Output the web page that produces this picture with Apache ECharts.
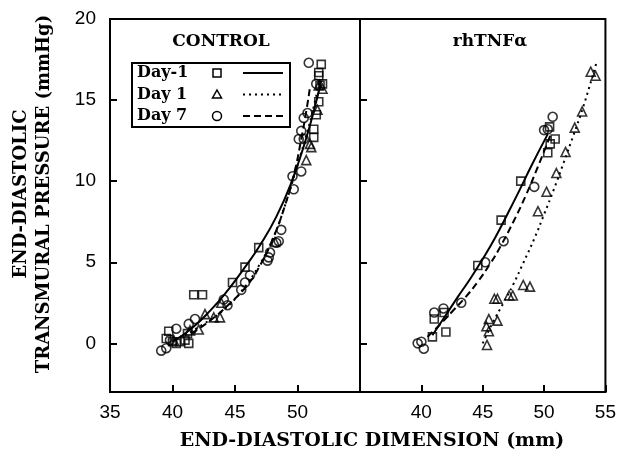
<!DOCTYPE html>
<html>
<head>
<meta charset="utf-8">
<script src="https://cdn.jsdelivr.net/npm/echarts@6/dist/echarts.min.js"></script>
<style>
html,body{margin:0;padding:0;background:#fff;}
#chart{width:619px;height:456px;}
</style>
</head>
<body>
<div id="chart"></div>
<script>
// ---- data ----
const xTicksLeft = [35, 40, 45, 50];
const xTicksRight = [40, 45, 50, 55];
const yTicks = [0, 5, 10, 15, 20];
const panelTitles = ['CONTROL', 'rhTNF\u03b1'];
const legendNames = ['Day-1', 'Day 1', 'Day 7'];

// CONTROL panel points [dimension, pressure]
const ctrlDayM1Pts = [[39.5,0.3],[39.7,0.75],[40.0,0.1],[40.3,0.0],[40.6,0.1],[41.0,0.2],[41.3,0.0],[41.2,0.6],[41.7,3.0],[42.4,3.0],[44.8,3.75],[45.8,4.7],[46.9,5.9],[51.3,12.7],[51.3,13.2],[51.5,14.1],[51.7,14.9],[51.7,16.5],[51.7,16.7],[51.9,17.2],[51.8,15.9],[52.0,16.0]];
const ctrlDay1Pts = [[40.1,0.2],[41.4,0.8],[42.1,0.85],[42.6,1.8],[43.3,1.6],[43.8,1.6],[43.9,2.5],[48.2,6.25],[50.7,11.3],[51.0,12.3],[51.1,12.1],[51.6,14.4],[52.0,15.7],[51.7,15.9]];
const ctrlDay7Pts = [[39.1,-0.45],[39.5,-0.3],[39.8,0.2],[40.3,0.9],[41.3,1.2],[41.8,1.5],[44.1,2.7],[44.4,2.35],[45.5,3.3],[45.8,3.75],[46.2,4.2],[47.6,5.1],[47.7,5.3],[47.8,5.6],[48.3,6.2],[48.5,6.3],[48.7,7.0],[49.6,10.3],[49.7,9.5],[50.1,12.6],[50.3,10.6],[50.3,13.1],[50.5,12.6],[50.5,13.9],[50.8,14.2],[50.9,17.3],[51.5,16.0]];
// CONTROL fitted curves
const ctrlDayM1Fit = [[40.0,0.1],[41.5,0.9],[43.0,2.0],[44.5,3.35],[45.8,4.7],[47.0,6.05],[48.3,7.8],[49.5,9.9],[50.6,12.4],[51.4,14.6],[51.9,16.2]];
const ctrlDay1Fit = [[41.0,0.5],[42.5,1.2],[44.0,2.0],[45.5,3.2],[47.0,4.9],[48.0,6.4],[49.0,8.5],[50.0,11.0],[50.8,13.1],[51.3,14.6],[51.8,16.3]];
const ctrlDay7Fit = [[41.5,0.6],[43.0,1.4],[44.5,2.4],[46.0,3.6],[47.0,4.8],[48.0,6.4],[49.0,8.5],[49.8,10.7],[50.3,12.6],[50.7,14.3],[51.0,15.8]];

// rhTNFa panel points
const tnfDayM1Pts = [[40.9,0.4],[41.05,1.5],[41.85,1.9],[42.0,0.7],[44.6,4.8],[46.5,7.6],[48.1,10.0],[50.3,11.75],[50.5,12.3],[50.9,12.6],[50.45,13.35]];
const tnfDay1Pts = [[45.35,-0.1],[45.5,0.75],[45.3,1.05],[45.5,1.5],[46.2,1.4],[45.95,2.75],[46.2,2.75],[47.15,2.95],[47.45,2.95],[48.3,3.6],[48.85,3.5],[49.5,8.15],[50.2,9.35],[51.0,10.5],[51.75,11.8],[52.5,13.3],[53.1,14.3],[53.8,16.75],[54.2,16.5]];
const tnfDay7Pts = [[39.7,0.0],[40.0,0.1],[40.2,-0.33],[41.05,1.9],[41.8,2.15],[43.25,2.5],[45.2,5.0],[46.7,6.3],[49.2,9.65],[50.0,13.15],[50.3,13.2],[50.7,13.97]];
// rhTNFa fitted curves
const tnfDayM1Fit = [[40.9,0.5],[42.0,1.75],[43.0,2.9],[44.0,4.0],[45.0,5.2],[46.0,6.5],[47.0,7.95],[48.0,9.45],[49.0,11.0],[50.3,12.9]];
const tnfDay1Fit = [[45.0,0.0],[45.8,1.25],[46.7,2.5],[47.5,3.65],[48.3,4.95],[49.2,6.45],[50.0,7.95],[50.8,9.5],[51.6,11.15],[52.4,12.85],[53.2,14.6],[54.3,17.4]];
const tnfDay7Fit = [[40.5,0.4],[41.5,1.15],[42.5,1.95],[43.6,2.85],[44.6,3.8],[45.6,4.9],[46.5,6.05],[47.5,7.5],[48.5,9.1],[49.5,10.9],[50.6,13.0]];

// ---- styles ----
const SERIF = 'DejaVu Serif';
const SANS = 'Liberation Sans';
const symbolOf = ['rect', 'triangle', 'circle'];
const symSize = [8, 9, 9];
const lineTypes = ['solid', [2, 4], [7, 4]];
const tickStyle = { show: true, inside: true, length: 7, lineStyle: { color: '#000', width: 2 } };

function axisX(gridIndex, labels) {
  return {
    type: 'value', gridIndex, min: 35, max: 55, interval: 5,
    axisLine: { show: true, onZero: false, lineStyle: { color: '#000', width: 2 } },
    axisTick: tickStyle,
    axisLabel: { show: true, customValues: labels, margin: 11, color: '#000', fontFamily: SANS, fontSize: 19 },
    splitLine: { show: false }
  };
}
function axisY(gridIndex, showLabels) {
  return {
    type: 'value', gridIndex, min: -3, max: 20, splitNumber: 5,
    axisLine: { show: true, onZero: false, lineStyle: { color: '#000', width: 2 } },
    axisTick: tickStyle,
    axisLabel: { show: showLabels, customValues: yTicks, margin: 14, color: '#000', fontFamily: SANS, fontSize: 19 },
    splitLine: { show: false }
  };
}

function scatter(data, k, idx) {
  return {
    type: 'scatter', xAxisIndex: idx, yAxisIndex: idx, data,
    symbol: symbolOf[k], symbolSize: symSize[k],
    itemStyle: { color: 'rgba(255,255,255,0)', borderColor: '#000', borderWidth: 1.6 },
    z: 3
  };
}
function fit(data, k, idx) {
  return {
    type: 'line', xAxisIndex: idx, yAxisIndex: idx, data, smooth: 0.5,
    showSymbol: false, symbol: 'none',
    lineStyle: { color: '#000', width: 2, type: lineTypes[k] },
    z: 2
  };
}

// legend graphic
const lgX = 132, lgY = 63, lgW = 158, lgH = 64;
const legendGraphic = [];
legendGraphic.push({ type: 'rect', shape: { x: lgX, y: lgY, width: lgW, height: lgH }, style: { fill: '#fff', stroke: '#000', lineWidth: 2 }, z: 10 });
const rowY = [73, 94.5, 116];
legendNames.forEach((name, i) => {
  legendGraphic.push({ type: 'text', x: 137, y: rowY[i], style: { text: name, font: 'bold 16px "' + SERIF + '"', fill: '#000', verticalAlign: 'middle', align: 'left' }, z: 11 });
  const cx = 217, cy = rowY[i];
  if (i === 0) legendGraphic.push({ type: 'rect', shape: { x: cx - 4, y: cy - 4, width: 8, height: 8 }, style: { fill: 'none', stroke: '#000', lineWidth: 1.5 }, z: 11 });
  if (i === 1) legendGraphic.push({ type: 'polygon', shape: { points: [[cx, cy - 4.5], [cx + 4.5, cy + 3.5], [cx - 4.5, cy + 3.5]] }, style: { fill: 'none', stroke: '#000', lineWidth: 1.5 }, z: 11 });
  if (i === 2) legendGraphic.push({ type: 'circle', shape: { cx, cy, r: 4.5 }, style: { fill: 'none', stroke: '#000', lineWidth: 1.5 }, z: 11 });
  legendGraphic.push({ type: 'line', shape: { x1: 243, y1: cy, x2: 283, y2: cy }, style: { stroke: '#000', lineWidth: 2, lineDash: i === 0 ? null : lineTypes[i] }, z: 11 });
});

const chart = echarts.init(document.getElementById('chart'), null, { renderer: 'canvas' });
chart.setOption({
  backgroundColor: '#fff',
  animation: false,
  grid: [
    { left: 110, top: 19, width: 250, height: 373, show: true, borderColor: '#000', borderWidth: 2 },
    { left: 360, top: 19, width: 248, height: 373, show: true, borderColor: '#000', borderWidth: 2 }
  ],
  xAxis: [axisX(0, xTicksLeft), axisX(1, xTicksRight)],
  yAxis: [axisY(0, true), axisY(1, false)],
  series: [
    scatter(ctrlDayM1Pts, 0, 0), scatter(ctrlDay1Pts, 1, 0), scatter(ctrlDay7Pts, 2, 0),
    fit(ctrlDayM1Fit, 0, 0), fit(ctrlDay1Fit, 1, 0), fit(ctrlDay7Fit, 2, 0),
    scatter(tnfDayM1Pts, 0, 1), scatter(tnfDay1Pts, 1, 1), scatter(tnfDay7Pts, 2, 1),
    fit(tnfDayM1Fit, 0, 1), fit(tnfDay1Fit, 1, 1), fit(tnfDay7Fit, 2, 1)
  ],
  graphic: [
    { type: 'text', x: 221, y: 42, style: { text: panelTitles[0], font: 'bold 17px "' + SERIF + '"', fill: '#000', align: 'center', verticalAlign: 'middle' } },
    { type: 'text', x: 490, y: 42, style: { text: panelTitles[1], font: 'bold 17px "' + SERIF + '"', fill: '#000', align: 'center', verticalAlign: 'middle' } },
    { type: 'text', x: 372, y: 441, style: { text: 'END-DIASTOLIC DIMENSION (mm)', font: 'bold 19px "' + SERIF + '"', fill: '#000', align: 'center', verticalAlign: 'middle' } },
    { type: 'text', x: 21, y: 194, rotation: Math.PI / 2, style: { text: 'END-DIASTOLIC', font: 'bold 18px "' + SERIF + '"', fill: '#000', align: 'center', verticalAlign: 'middle' } },
    { type: 'text', x: 44, y: 194, rotation: Math.PI / 2, style: { text: 'TRANSMURAL PRESSURE (mmHg)', font: 'bold 18px "' + SERIF + '"', fill: '#000', align: 'center', verticalAlign: 'middle' } }
  ].concat(legendGraphic)
});
</script>
</body>
</html>
